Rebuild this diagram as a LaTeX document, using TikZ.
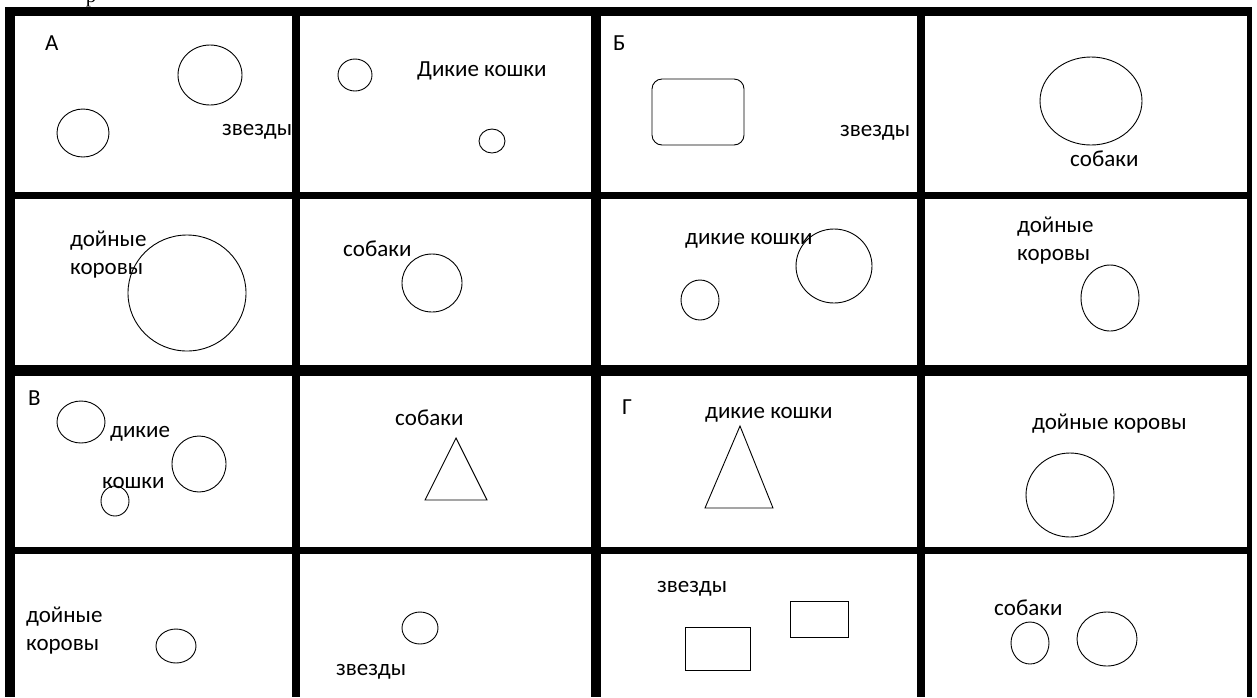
\documentclass[tikz,border=0pt]{standalone}
\usepackage{fontspec}
\setmainfont{Carlito}
\newfontfamily\serifrm{Liberation Serif}
\begin{document}
\begin{tikzpicture}[x=1pt,y=-1pt,
  lbl/.style={anchor=base west,inner sep=0pt,font=\fontsize{23}{28}\selectfont},
  two/.style={lbl,align=left},
  shp/.style={draw=black,line width=0.9pt},
  grid/.style={fill=black}]
\useasboundingbox (0,0) rectangle (1257,697);
\fill[white] (0,0) rectangle (1257,697);
% fragment of a glyph cut off at the top
\begin{scope}
\clip (0,0) rectangle (300,7);
\node[anchor=base,inner sep=0pt,font=\serifrm\fontsize{21}{21}\selectfont] (frag) at (91,2) {р};
\end{scope}
% grid
\fill[grid] (5,7) rectangle (1252,16);
\fill[grid] (5,192) rectangle (1252,199);
\fill[grid] (5,365) rectangle (1252,376);
\fill[grid] (5,547) rectangle (1252,554);
\fill[grid] (5,7) rectangle (15,697);
\fill[grid] (292,7) rectangle (300,697);
\fill[grid] (591,7) rectangle (601,697);
\fill[grid] (917,7) rectangle (925,697);
\fill[grid] (1247,7) rectangle (1252,697);
% row 1
\node[lbl] (A) at (45,50) {А};
\draw[shp] (210,75) ellipse [x radius=32,y radius=30];
\draw[shp] (83,133) ellipse [x radius=26,y radius=24];
\node[lbl] (z1) at (222,135) {звезды};
\draw[shp] (355,75) ellipse [x radius=17,y radius=16];
\node[lbl] (dk1) at (417,76) {Дикие кошки};
\draw[shp] (492,141) ellipse [x radius=13,y radius=12];
\node[lbl] (B) at (613,50) {Б};
\draw[shp,rounded corners=10pt] (652,79) rectangle (744,145);
\node[lbl] (z2) at (840,136) {звезды};
\draw[shp] (1091,101) ellipse [x radius=51,y radius=44];
\node[lbl] (s1) at (1070,166) {собаки};
% row 2
\node[two] (dk2) at (70,274) {дойные\\коровы};
\draw[shp] (187,293) ellipse [x radius=59,y radius=58];
\node[lbl] (s2) at (343,256) {собаки};
\draw[shp] (432,283) ellipse [x radius=30,y radius=29];
\node[lbl] (dk3) at (685,244) {дикие кошки};
\draw[shp] (834,266) ellipse [x radius=38,y radius=37];
\draw[shp] (700,300) ellipse [x radius=19,y radius=20];
\node[two] (dr2) at (1017,260) {дойные\\коровы};
\draw[shp] (1110,298) ellipse [x radius=29,y radius=33];
% row 3
\node[lbl] (V) at (28,405) {В};
\draw[shp] (81,422) ellipse [x radius=24,y radius=21];
\node[lbl] (dik) at (110,437) {дикие};
\draw[shp] (199,464) ellipse [x radius=27,y radius=28];
\node[lbl] (kosh) at (102,488) {кошки};
\draw[shp] (115,501) ellipse [x radius=14,y radius=15];
\node[lbl] (s3) at (395,425) {собаки};
\draw[shp] (456,438) -- (487,500) -- (425,500) -- cycle;
\node[lbl] (G) at (622,414) {Г};
\node[lbl] (dk4) at (705,418) {дикие кошки};
\draw[shp] (740,426) -- (773,508) -- (705,508) -- cycle;
\node[lbl] (dr3) at (1032,429) {дойные коровы};
\draw[shp] (1070,495) ellipse [x radius=44,y radius=42];
% row 4
\node[two] (dr4) at (26,650) {дойные\\коровы};
\draw[shp] (176,646) ellipse [x radius=20,y radius=17];
\draw[shp] (420,628) ellipse [x radius=18,y radius=16];
\node[lbl] (z3) at (336,675) {звезды};
\node[lbl] (z4) at (657,592) {звезды};
\draw[shp] (685,627) rectangle (750,670);
\draw[shp] (790,601) rectangle (848,637);
\node[lbl] (s4) at (994,615) {собаки};
\draw[shp] (1030,643) ellipse [x radius=19,y radius=21];
\draw[shp] (1107,639) ellipse [x radius=30,y radius=27];
\end{tikzpicture}
\end{document}
